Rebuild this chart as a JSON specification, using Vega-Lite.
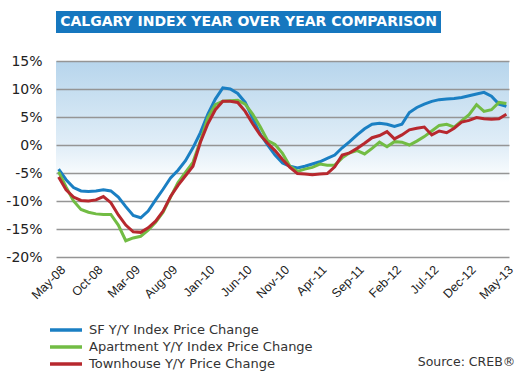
{
  "$schema": "https://vega.github.io/schema/vega-lite/v6.json",
  "background": "#ffffff",
  "padding": {"left": 5, "top": 11, "right": 5, "bottom": 0},
  "spacing": 21,
  "config": {"view": {"stroke": null}},
  "title": {"text": "Source: CREB®", "orient": "bottom", "anchor": "end", "frame": "bounds", "font": "DejaVu Sans", "fontSize": 12.5, "fontWeight": "normal", "color": "#333333", "offset": -15},
  "vconcat": [
    {
      "width": 385,
      "height": 22,
      "data": {"values": [{"title": "CALGARY INDEX YEAR OVER YEAR COMPARISON"}]},
      "layer": [
        {"mark": {"type": "rect", "color": "#1677bf"}, "encoding": {}},
        {"mark": {"type": "text", "color": "#ffffff", "font": "DejaVu Sans", "fontWeight": "bold", "fontSize": 14}, "encoding": {"text": {"field": "title", "type": "nominal"}}}
      ]
    },
    {
      "width": 453,
      "height": 196,
      "view": {"stroke": null, "fill": {"gradient": "linear", "x1": 0, "y1": 0, "x2": 0, "y2": 1, "stops": [{"offset": 0, "color": "#b7d5ec"}, {"offset": 0.45, "color": "#e3eff8"}, {"offset": 0.62, "color": "#ffffff"}, {"offset": 1, "color": "#ffffff"}]}},
      "data": {"values": [
        {"month":"May-08","series":"SF Y/Y Index Price Change","value":-4.3},
        {"month":"Jun-08","series":"SF Y/Y Index Price Change","value":-6.2},
        {"month":"Jul-08","series":"SF Y/Y Index Price Change","value":-7.6},
        {"month":"Aug-08","series":"SF Y/Y Index Price Change","value":-8.2},
        {"month":"Sep-08","series":"SF Y/Y Index Price Change","value":-8.3},
        {"month":"Oct-08","series":"SF Y/Y Index Price Change","value":-8.2},
        {"month":"Nov-08","series":"SF Y/Y Index Price Change","value":-8.0},
        {"month":"Dec-08","series":"SF Y/Y Index Price Change","value":-8.2},
        {"month":"Jan-09","series":"SF Y/Y Index Price Change","value":-9.3},
        {"month":"Feb-09","series":"SF Y/Y Index Price Change","value":-11.0},
        {"month":"Mar-09","series":"SF Y/Y Index Price Change","value":-12.6},
        {"month":"Apr-09","series":"SF Y/Y Index Price Change","value":-13.0},
        {"month":"May-09","series":"SF Y/Y Index Price Change","value":-11.8},
        {"month":"Jun-09","series":"SF Y/Y Index Price Change","value":-9.8},
        {"month":"Jul-09","series":"SF Y/Y Index Price Change","value":-7.9},
        {"month":"Aug-09","series":"SF Y/Y Index Price Change","value":-5.9},
        {"month":"Sep-09","series":"SF Y/Y Index Price Change","value":-4.5},
        {"month":"Oct-09","series":"SF Y/Y Index Price Change","value":-2.8},
        {"month":"Nov-09","series":"SF Y/Y Index Price Change","value":-0.5},
        {"month":"Dec-09","series":"SF Y/Y Index Price Change","value":2.2},
        {"month":"Jan-10","series":"SF Y/Y Index Price Change","value":5.5},
        {"month":"Feb-10","series":"SF Y/Y Index Price Change","value":8.2},
        {"month":"Mar-10","series":"SF Y/Y Index Price Change","value":10.2},
        {"month":"Apr-10","series":"SF Y/Y Index Price Change","value":10.0},
        {"month":"May-10","series":"SF Y/Y Index Price Change","value":9.2},
        {"month":"Jun-10","series":"SF Y/Y Index Price Change","value":7.6},
        {"month":"Jul-10","series":"SF Y/Y Index Price Change","value":4.8},
        {"month":"Aug-10","series":"SF Y/Y Index Price Change","value":2.0},
        {"month":"Sep-10","series":"SF Y/Y Index Price Change","value":0.0},
        {"month":"Oct-10","series":"SF Y/Y Index Price Change","value":-1.8},
        {"month":"Nov-10","series":"SF Y/Y Index Price Change","value":-3.2},
        {"month":"Dec-10","series":"SF Y/Y Index Price Change","value":-3.8},
        {"month":"Jan-11","series":"SF Y/Y Index Price Change","value":-4.1},
        {"month":"Feb-11","series":"SF Y/Y Index Price Change","value":-3.8},
        {"month":"Mar-11","series":"SF Y/Y Index Price Change","value":-3.4},
        {"month":"Apr-11","series":"SF Y/Y Index Price Change","value":-3.0},
        {"month":"May-11","series":"SF Y/Y Index Price Change","value":-2.4},
        {"month":"Jun-11","series":"SF Y/Y Index Price Change","value":-1.8},
        {"month":"Jul-11","series":"SF Y/Y Index Price Change","value":-0.5},
        {"month":"Aug-11","series":"SF Y/Y Index Price Change","value":0.6},
        {"month":"Sep-11","series":"SF Y/Y Index Price Change","value":1.8},
        {"month":"Oct-11","series":"SF Y/Y Index Price Change","value":2.9},
        {"month":"Nov-11","series":"SF Y/Y Index Price Change","value":3.7},
        {"month":"Dec-11","series":"SF Y/Y Index Price Change","value":3.9},
        {"month":"Jan-12","series":"SF Y/Y Index Price Change","value":3.7},
        {"month":"Feb-12","series":"SF Y/Y Index Price Change","value":3.3},
        {"month":"Mar-12","series":"SF Y/Y Index Price Change","value":3.7},
        {"month":"Apr-12","series":"SF Y/Y Index Price Change","value":5.8},
        {"month":"May-12","series":"SF Y/Y Index Price Change","value":6.7},
        {"month":"Jun-12","series":"SF Y/Y Index Price Change","value":7.3},
        {"month":"Jul-12","series":"SF Y/Y Index Price Change","value":7.8},
        {"month":"Aug-12","series":"SF Y/Y Index Price Change","value":8.1},
        {"month":"Sep-12","series":"SF Y/Y Index Price Change","value":8.2},
        {"month":"Oct-12","series":"SF Y/Y Index Price Change","value":8.3},
        {"month":"Nov-12","series":"SF Y/Y Index Price Change","value":8.5},
        {"month":"Dec-12","series":"SF Y/Y Index Price Change","value":8.8},
        {"month":"Jan-13","series":"SF Y/Y Index Price Change","value":9.1},
        {"month":"Feb-13","series":"SF Y/Y Index Price Change","value":9.4},
        {"month":"Mar-13","series":"SF Y/Y Index Price Change","value":8.7},
        {"month":"Apr-13","series":"SF Y/Y Index Price Change","value":7.3},
        {"month":"May-13","series":"SF Y/Y Index Price Change","value":6.9},
        {"month":"May-08","series":"Apartment Y/Y Index Price Change","value":-4.8},
        {"month":"Jun-08","series":"Apartment Y/Y Index Price Change","value":-7.5},
        {"month":"Jul-08","series":"Apartment Y/Y Index Price Change","value":-10.0},
        {"month":"Aug-08","series":"Apartment Y/Y Index Price Change","value":-11.5},
        {"month":"Sep-08","series":"Apartment Y/Y Index Price Change","value":-12.0},
        {"month":"Oct-08","series":"Apartment Y/Y Index Price Change","value":-12.3},
        {"month":"Nov-08","series":"Apartment Y/Y Index Price Change","value":-12.4},
        {"month":"Dec-08","series":"Apartment Y/Y Index Price Change","value":-12.4},
        {"month":"Jan-09","series":"Apartment Y/Y Index Price Change","value":-14.3},
        {"month":"Feb-09","series":"Apartment Y/Y Index Price Change","value":-17.1},
        {"month":"Mar-09","series":"Apartment Y/Y Index Price Change","value":-16.6},
        {"month":"Apr-09","series":"Apartment Y/Y Index Price Change","value":-16.3},
        {"month":"May-09","series":"Apartment Y/Y Index Price Change","value":-15.2},
        {"month":"Jun-09","series":"Apartment Y/Y Index Price Change","value":-13.8},
        {"month":"Jul-09","series":"Apartment Y/Y Index Price Change","value":-12.0},
        {"month":"Aug-09","series":"Apartment Y/Y Index Price Change","value":-9.3},
        {"month":"Sep-09","series":"Apartment Y/Y Index Price Change","value":-6.7},
        {"month":"Oct-09","series":"Apartment Y/Y Index Price Change","value":-4.9},
        {"month":"Nov-09","series":"Apartment Y/Y Index Price Change","value":-3.1},
        {"month":"Dec-09","series":"Apartment Y/Y Index Price Change","value":0.7},
        {"month":"Jan-10","series":"Apartment Y/Y Index Price Change","value":4.9},
        {"month":"Feb-10","series":"Apartment Y/Y Index Price Change","value":7.2},
        {"month":"Mar-10","series":"Apartment Y/Y Index Price Change","value":7.8},
        {"month":"Apr-10","series":"Apartment Y/Y Index Price Change","value":7.9},
        {"month":"May-10","series":"Apartment Y/Y Index Price Change","value":8.0},
        {"month":"Jun-10","series":"Apartment Y/Y Index Price Change","value":7.3},
        {"month":"Jul-10","series":"Apartment Y/Y Index Price Change","value":5.5},
        {"month":"Aug-10","series":"Apartment Y/Y Index Price Change","value":3.3},
        {"month":"Sep-10","series":"Apartment Y/Y Index Price Change","value":0.8},
        {"month":"Oct-10","series":"Apartment Y/Y Index Price Change","value":0.1},
        {"month":"Nov-10","series":"Apartment Y/Y Index Price Change","value":-1.5},
        {"month":"Dec-10","series":"Apartment Y/Y Index Price Change","value":-3.8},
        {"month":"Jan-11","series":"Apartment Y/Y Index Price Change","value":-4.7},
        {"month":"Feb-11","series":"Apartment Y/Y Index Price Change","value":-4.3},
        {"month":"Mar-11","series":"Apartment Y/Y Index Price Change","value":-4.0},
        {"month":"Apr-11","series":"Apartment Y/Y Index Price Change","value":-3.4},
        {"month":"May-11","series":"Apartment Y/Y Index Price Change","value":-3.6},
        {"month":"Jun-11","series":"Apartment Y/Y Index Price Change","value":-3.6},
        {"month":"Jul-11","series":"Apartment Y/Y Index Price Change","value":-2.3},
        {"month":"Aug-11","series":"Apartment Y/Y Index Price Change","value":-1.4},
        {"month":"Sep-11","series":"Apartment Y/Y Index Price Change","value":-1.0},
        {"month":"Oct-11","series":"Apartment Y/Y Index Price Change","value":-1.6},
        {"month":"Nov-11","series":"Apartment Y/Y Index Price Change","value":-0.6},
        {"month":"Dec-11","series":"Apartment Y/Y Index Price Change","value":0.5},
        {"month":"Jan-12","series":"Apartment Y/Y Index Price Change","value":-0.3},
        {"month":"Feb-12","series":"Apartment Y/Y Index Price Change","value":0.6},
        {"month":"Mar-12","series":"Apartment Y/Y Index Price Change","value":0.5},
        {"month":"Apr-12","series":"Apartment Y/Y Index Price Change","value":0.0},
        {"month":"May-12","series":"Apartment Y/Y Index Price Change","value":0.7},
        {"month":"Jun-12","series":"Apartment Y/Y Index Price Change","value":1.5},
        {"month":"Jul-12","series":"Apartment Y/Y Index Price Change","value":2.5},
        {"month":"Aug-12","series":"Apartment Y/Y Index Price Change","value":3.5},
        {"month":"Sep-12","series":"Apartment Y/Y Index Price Change","value":3.7},
        {"month":"Oct-12","series":"Apartment Y/Y Index Price Change","value":3.2},
        {"month":"Nov-12","series":"Apartment Y/Y Index Price Change","value":4.3},
        {"month":"Dec-12","series":"Apartment Y/Y Index Price Change","value":5.4},
        {"month":"Jan-13","series":"Apartment Y/Y Index Price Change","value":7.2},
        {"month":"Feb-13","series":"Apartment Y/Y Index Price Change","value":6.0},
        {"month":"Mar-13","series":"Apartment Y/Y Index Price Change","value":6.3},
        {"month":"Apr-13","series":"Apartment Y/Y Index Price Change","value":7.6},
        {"month":"May-13","series":"Apartment Y/Y Index Price Change","value":7.4},
        {"month":"May-08","series":"Townhouse Y/Y Price Change","value":-5.7},
        {"month":"Jun-08","series":"Townhouse Y/Y Price Change","value":-8.0},
        {"month":"Jul-08","series":"Townhouse Y/Y Price Change","value":-9.3},
        {"month":"Aug-08","series":"Townhouse Y/Y Price Change","value":-9.9},
        {"month":"Sep-08","series":"Townhouse Y/Y Price Change","value":-10.0},
        {"month":"Oct-08","series":"Townhouse Y/Y Price Change","value":-9.8},
        {"month":"Nov-08","series":"Townhouse Y/Y Price Change","value":-9.2},
        {"month":"Dec-08","series":"Townhouse Y/Y Price Change","value":-10.3},
        {"month":"Jan-09","series":"Townhouse Y/Y Price Change","value":-12.5},
        {"month":"Feb-09","series":"Townhouse Y/Y Price Change","value":-14.3},
        {"month":"Mar-09","series":"Townhouse Y/Y Price Change","value":-15.5},
        {"month":"Apr-09","series":"Townhouse Y/Y Price Change","value":-15.6},
        {"month":"May-09","series":"Townhouse Y/Y Price Change","value":-14.8},
        {"month":"Jun-09","series":"Townhouse Y/Y Price Change","value":-13.6},
        {"month":"Jul-09","series":"Townhouse Y/Y Price Change","value":-11.8},
        {"month":"Aug-09","series":"Townhouse Y/Y Price Change","value":-9.2},
        {"month":"Sep-09","series":"Townhouse Y/Y Price Change","value":-7.2},
        {"month":"Oct-09","series":"Townhouse Y/Y Price Change","value":-5.5},
        {"month":"Nov-09","series":"Townhouse Y/Y Price Change","value":-3.8},
        {"month":"Dec-09","series":"Townhouse Y/Y Price Change","value":0.5},
        {"month":"Jan-10","series":"Townhouse Y/Y Price Change","value":3.8},
        {"month":"Feb-10","series":"Townhouse Y/Y Price Change","value":6.3},
        {"month":"Mar-10","series":"Townhouse Y/Y Price Change","value":7.8},
        {"month":"Apr-10","series":"Townhouse Y/Y Price Change","value":7.8},
        {"month":"May-10","series":"Townhouse Y/Y Price Change","value":7.6},
        {"month":"Jun-10","series":"Townhouse Y/Y Price Change","value":6.0},
        {"month":"Jul-10","series":"Townhouse Y/Y Price Change","value":3.8},
        {"month":"Aug-10","series":"Townhouse Y/Y Price Change","value":1.8},
        {"month":"Sep-10","series":"Townhouse Y/Y Price Change","value":0.3},
        {"month":"Oct-10","series":"Townhouse Y/Y Price Change","value":-1.0},
        {"month":"Nov-10","series":"Townhouse Y/Y Price Change","value":-2.6},
        {"month":"Dec-10","series":"Townhouse Y/Y Price Change","value":-4.0},
        {"month":"Jan-11","series":"Townhouse Y/Y Price Change","value":-5.1},
        {"month":"Feb-11","series":"Townhouse Y/Y Price Change","value":-5.2},
        {"month":"Mar-11","series":"Townhouse Y/Y Price Change","value":-5.3},
        {"month":"Apr-11","series":"Townhouse Y/Y Price Change","value":-5.2},
        {"month":"May-11","series":"Townhouse Y/Y Price Change","value":-5.1},
        {"month":"Jun-11","series":"Townhouse Y/Y Price Change","value":-3.9},
        {"month":"Jul-11","series":"Townhouse Y/Y Price Change","value":-1.8},
        {"month":"Aug-11","series":"Townhouse Y/Y Price Change","value":-1.4},
        {"month":"Sep-11","series":"Townhouse Y/Y Price Change","value":-0.6},
        {"month":"Oct-11","series":"Townhouse Y/Y Price Change","value":0.3},
        {"month":"Nov-11","series":"Townhouse Y/Y Price Change","value":1.3},
        {"month":"Dec-11","series":"Townhouse Y/Y Price Change","value":1.7},
        {"month":"Jan-12","series":"Townhouse Y/Y Price Change","value":2.4},
        {"month":"Feb-12","series":"Townhouse Y/Y Price Change","value":1.1},
        {"month":"Mar-12","series":"Townhouse Y/Y Price Change","value":1.8},
        {"month":"Apr-12","series":"Townhouse Y/Y Price Change","value":2.7},
        {"month":"May-12","series":"Townhouse Y/Y Price Change","value":3.0},
        {"month":"Jun-12","series":"Townhouse Y/Y Price Change","value":3.2},
        {"month":"Jul-12","series":"Townhouse Y/Y Price Change","value":1.8},
        {"month":"Aug-12","series":"Townhouse Y/Y Price Change","value":2.5},
        {"month":"Sep-12","series":"Townhouse Y/Y Price Change","value":2.2},
        {"month":"Oct-12","series":"Townhouse Y/Y Price Change","value":3.0},
        {"month":"Nov-12","series":"Townhouse Y/Y Price Change","value":4.1},
        {"month":"Dec-12","series":"Townhouse Y/Y Price Change","value":4.4},
        {"month":"Jan-13","series":"Townhouse Y/Y Price Change","value":4.9},
        {"month":"Feb-13","series":"Townhouse Y/Y Price Change","value":4.7},
        {"month":"Mar-13","series":"Townhouse Y/Y Price Change","value":4.6},
        {"month":"Apr-13","series":"Townhouse Y/Y Price Change","value":4.7},
        {"month":"May-13","series":"Townhouse Y/Y Price Change","value":5.5}
      ]},
      "mark": {"type": "line", "strokeWidth": 3},
      "encoding": {
        "x": {
          "field": "month", "type": "ordinal", "sort": null,
          "scale": {"type": "point", "padding": 0.35},
          "axis": {
            "values": ["May-08","Oct-08","Mar-09","Aug-09","Jan-10","Jun-10","Nov-10","Apr-11","Sep-11","Feb-12","Jul-12","Dec-12","May-13"],
            "labelAngle": -45, "ticks": false, "domain": false, "grid": false, "title": null,
            "labelFont": "Liberation Sans", "labelFontSize": 12.5, "labelColor": "#222222", "labelPadding": 6
          }
        },
        "y": {
          "field": "value", "type": "quantitative",
          "scale": {"domain": [-20, 15], "nice": false, "zero": false},
          "axis": {
            "values": [-20, -15, -10, -5, 0, 5, 10, 15],
            "labelExpr": "datum.value + '%'",
            "title": null, "domain": false, "ticks": false,
            "gridColor": "#959595", "gridWidth": 1.4,
            "labelFont": "DejaVu Sans", "labelFontSize": 14, "labelPadding": 14, "labelColor": "#222222"
          }
        },
        "color": {
          "field": "series", "type": "nominal", "sort": null,
          "scale": {
            "domain": ["SF Y/Y Index Price Change", "Apartment Y/Y Index Price Change", "Townhouse Y/Y Price Change"],
            "range": ["#1a7fc3", "#72bc44", "#b7282e"]
          },
          "legend": {
            "orient": "bottom", "direction": "vertical", "title": null,
            "symbolType": "M-2,0H2", "symbolSize": 256, "symbolStrokeWidth": 3.5,
            "labelFont": "DejaVu Sans", "labelFontSize": 13, "labelColor": "#333333", "labelLimit": 400,
            "labelOffset": 13, "rowPadding": -1, "offset": 18
          }
        }
      }
    }
  ]
}
